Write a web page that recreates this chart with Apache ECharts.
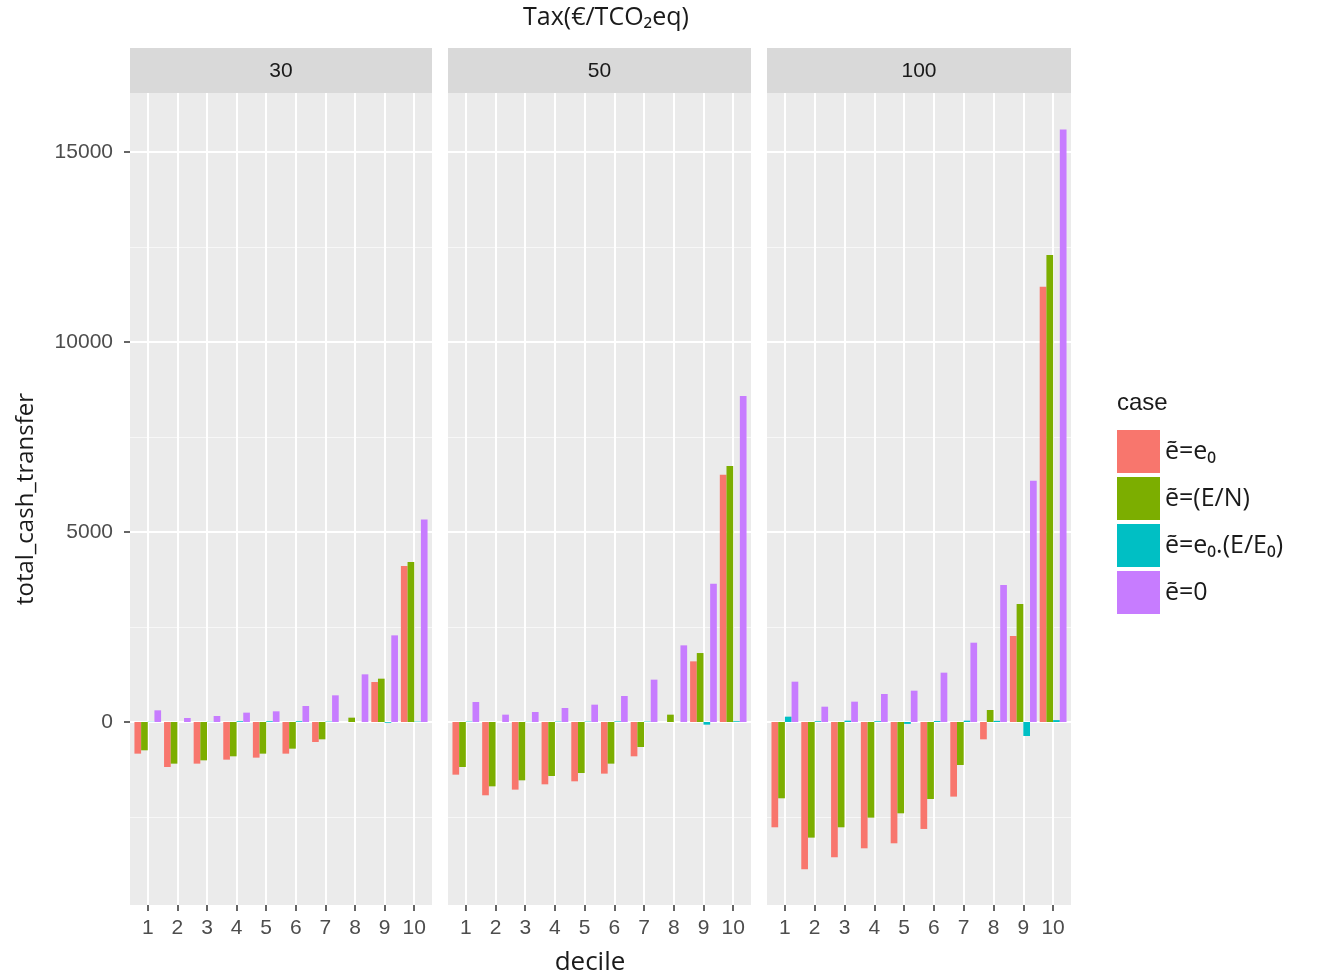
<!DOCTYPE html>
<html>
<head>
<meta charset="utf-8">
<script src="https://cdn.jsdelivr.net/npm/echarts@6/dist/echarts.min.js"></script>
<style>
    html, body { margin: 0; padding: 0; background: #fff; }
    #chart { width: 1317px; height: 978px; }
</style>
</head>
<body>
<div id="chart"></div>
<script>
// deciles and facet labels
var deciles = [1, 2, 3, 4, 5, 6, 7, 8, 9, 10];
var taxLevels = ['30', '50', '100'];
var caseNames = ['ẽ=e₀', 'ẽ=(E/N)', 'ẽ=e₀.(E/E₀)', 'ẽ=0'];
var caseColors = ['#F8766D', '#7CAE00', '#00BFC4', '#C77CFF'];

// tax = 30
var tax30_e0   = [-833, -1184, -1096, -991, -938, -833, -526, 0, 1052, 4104];
var tax30_EN   = [-745, -1096, -1009, -903, -833, -702, -456, 114, 1140, 4210];
var tax30_eE   = [5, 0, 5, 20, 20, 20, 10, 0, -20, 10];
var tax30_zero = [307, 105, 158, 246, 281, 421, 702, 1254, 2280, 5330];

// tax = 50
var tax50_e0   = [-1386, -1929, -1780, -1640, -1561, -1359, -903, 0, 1596, 6507];
var tax50_EN   = [-1184, -1693, -1535, -1421, -1342, -1096, -658, 193, 1815, 6735];
var tax50_eE   = [10, 0, 5, 10, 10, 15, 10, 0, -70, 20];
var tax50_zero = [526, 193, 263, 368, 456, 684, 1114, 2017, 3640, 8577];

// tax = 100
var tax100_e0   = [-2771, -3876, -3561, -3324, -3192, -2815, -1964, -456, 2263, 11455];
var tax100_EN   = [-2008, -3043, -2771, -2517, -2403, -2026, -1131, 316, 3105, 12289];
var tax100_eE   = [140, 20, 35, 20, -50, 25, 35, 30, -368, 50];
var tax100_zero = [1061, 403, 535, 737, 824, 1298, 2087, 3604, 6349, 15590];

var yTicks = [0, 5000, 10000, 15000];
var yMinorTicks = [-2500, 2500, 7500, 12500];

var panelData = [
    [tax30_e0, tax30_EN, tax30_eE, tax30_zero],
    [tax50_e0, tax50_EN, tax50_eE, tax50_zero],
    [tax100_e0, tax100_EN, tax100_eE, tax100_zero]
];

var panelLeft = [130, 448, 767];
var panelWidth = [302, 303, 304];
var panelTop = 93;
var panelHeight = 812;
var yMin = -4816, yMax = 16553;

var labelFont = 'Liberation Sans, Arial, sans-serif';
var titleFont = 'Open Sans, Noto Sans, sans-serif';

var myChart = echarts.init(document.getElementById('chart'));

var grids = [], xAxes = [], yAxes = [], seriesList = [], graphics = [];

panelData.forEach(function (cases, p) {
    grids.push({
        left: panelLeft[p],
        top: panelTop,
        width: panelWidth[p],
        height: panelHeight,
        show: true,
        backgroundColor: '#EBEBEB',
        borderWidth: 0
    });
    xAxes.push({
        type: 'value',
        gridIndex: p,
        min: 0.4,
        max: 10.6,
        axisLine: { show: false, onZero: false },
        axisTick: { show: true, customValues: deciles, length: 6, lineStyle: { color: '#333', width: 1.5 } },
        axisLabel: { customValues: deciles, color: '#4D4D4D', fontSize: 21, fontFamily: labelFont, margin: 13 },
        splitLine: { show: true, lineStyle: { color: '#fff', width: 2 } }
    });
    // major grid / labels
    yAxes.push({
        type: 'value',
        gridIndex: p,
        min: yMin,
        max: yMax,
        axisLine: { show: false, onZero: false },
        axisTick: { show: p === 0, customValues: yTicks, length: 6, lineStyle: { color: '#333', width: 1.5 } },
        axisLabel: {
            show: p === 0, customValues: yTicks, color: '#4D4D4D', fontSize: 21, fontFamily: labelFont, margin: 17,
            formatter: function (v) { return String(v); }
        },
        splitLine: { show: true, lineStyle: { color: '#fff', width: 2 } },
        name: p === 0 ? 'total_cash_transfer' : '',
        nameLocation: 'middle',
        nameGap: 92,
        nameTextStyle: { color: '#1A1A1A', fontSize: 24, fontFamily: titleFont }
    });
    // minor grid lines
    yAxes.push({
        type: 'value',
        gridIndex: p,
        min: yMin,
        max: yMax,
        position: 'left',
        axisLine: { show: false, onZero: false },
        axisTick: { show: false, customValues: yMinorTicks },
        axisLabel: { show: false, customValues: yMinorTicks },
        splitLine: { show: true, lineStyle: { color: '#F7F7F7', width: 1 } }
    });

    cases.forEach(function (vals, c) {
        seriesList.push({
            name: caseNames[c],
            type: 'bar',
            xAxisIndex: p,
            yAxisIndex: 2 * p,
            barGap: '0%',
            barCategoryGap: '10%',
            itemStyle: { color: caseColors[c] },
            data: deciles.map(function (d, i) { return [d, vals[i]]; })
        });
    });

    // facet strip
    graphics.push({
        type: 'rect',
        shape: { x: panelLeft[p], y: 48, width: panelWidth[p], height: 45 },
        style: { fill: '#D9D9D9' }
    });
    graphics.push({
        type: 'text',
        x: panelLeft[p] + panelWidth[p] / 2,
        y: 71,
        style: { text: taxLevels[p], fill: '#1A1A1A', font: '21px ' + labelFont, align: 'center', verticalAlign: 'middle' }
    });
});

graphics.push({
    type: 'text', x: 606, y: 18,
    style: { text: 'Tax(€/TCO₂eq)', fill: '#1A1A1A', font: '25px ' + titleFont, align: 'center', verticalAlign: 'middle' }
});
graphics.push({
    type: 'text', x: 590, y: 963,
    style: { text: 'decile', fill: '#1A1A1A', font: '26px ' + titleFont, align: 'center', verticalAlign: 'middle' }
});
graphics.push({
    type: 'text', x: 1117, y: 403,
    style: { text: 'case', fill: '#1A1A1A', font: '24px ' + labelFont, align: 'left', verticalAlign: 'middle' }
});

var option = {
    animation: false,
    backgroundColor: '#fff',
    grid: grids,
    xAxis: xAxes,
    yAxis: yAxes,
    legend: {
        data: caseNames,
        orient: 'vertical',
        left: 1112,
        top: 425,
        itemWidth: 43,
        itemHeight: 43,
        itemGap: 4,
        icon: 'rect',
        textStyle: { color: '#1A1A1A', fontSize: 25, fontFamily: titleFont }
    },
    graphic: graphics,
    series: seriesList
};
myChart.setOption(option);
</script>
</body>
</html>
